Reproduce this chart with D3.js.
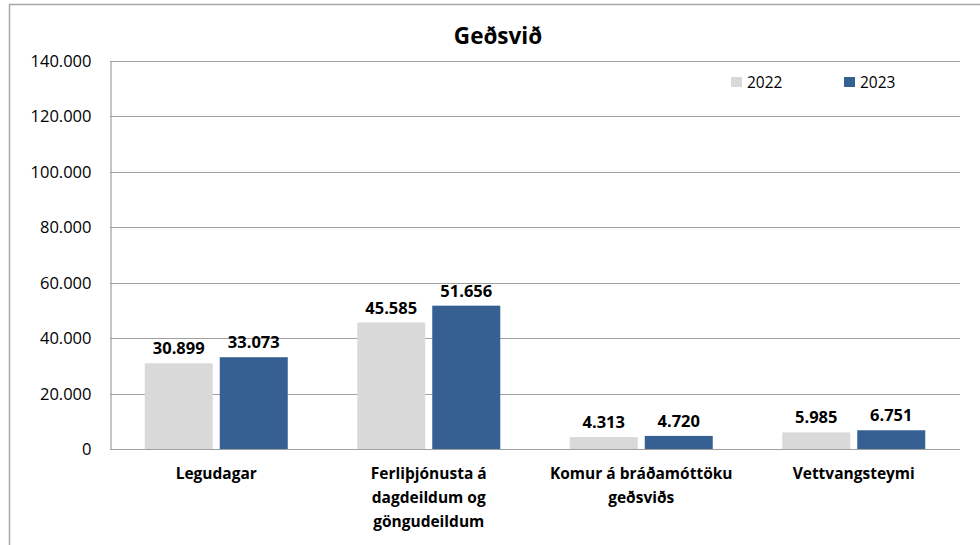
<!DOCTYPE html>
<html>
<head>
<meta charset="utf-8">
<script src="https://cdn.jsdelivr.net/npm/d3@7"></script>
<style>
  html, body { margin: 0; padding: 0; background: #fff; }
  svg { display: block; }
  text { font-family: "Open Sans", Lato, sans-serif; fill: #000; }
</style>
</head>
<body>
<svg id="chart" width="980" height="545"></svg>
<script>
const title = "Geðsvið";
const categories = [
  "Legudagar",
  "Ferliþjónusta á\ndagdeildum og\ngöngudeildum",
  "Komur á bráðamóttöku\ngeðsviðs",
  "Vettvangsteymi"
];
const seriesNames = ["2022", "2023"];
const values2022 = [30899, 45585, 4313, 5985];
const values2023 = [33073, 51656, 4720, 6751];
const yTicks = [0, 20000, 40000, 60000, 80000, 100000, 120000, 140000];
const colors = ["#d9d9d9", "#376092"];

const series = [values2022, values2023];
const plot = { left: 110, right: 960, top: 60.5, bottom: 449 };

const locale = d3.formatLocale({ decimal: ",", thousands: ".", grouping: [3], currency: ["", ""] });
const fmt = locale.format(",d");

const svg = d3.select("#chart");

// outer frame
svg.append("rect")
  .attr("x", 9.5).attr("y", 4.5)
  .attr("width", 990).attr("height", 600)
  .attr("fill", "none").attr("stroke", "#a6a6a6").attr("stroke-width", 1.5);

const y = d3.scaleLinear().domain([0, 140000]).range([plot.bottom, plot.top]);
const x = d3.scaleBand().domain(categories).range([plot.left, plot.right])
  .paddingInner(0.327).paddingOuter(0.1635);
const xs = d3.scaleBand().domain(seriesNames).range([0, x.bandwidth()])
  .paddingInner(0.0933).paddingOuter(0);

// gridlines
svg.append("g").selectAll("line").data(yTicks).join("line")
  .attr("x1", plot.left).attr("x2", plot.right)
  .attr("y1", d => Math.round(y(d)) + 0.5).attr("y2", d => Math.round(y(d)) + 0.5)
  .attr("stroke", "#a0a0a0").attr("stroke-width", 1.2);

// y axis
const yAxis = d3.axisLeft(y).tickValues(yTicks).tickFormat(d => fmt(d)).tickSize(0).tickPadding(19);
const gy = svg.append("g").attr("transform", `translate(${plot.left + 0.5},0)`).call(yAxis);
gy.select(".domain").attr("stroke", "#a0a0a0").attr("stroke-width", 1.2);
gy.selectAll("text").attr("font-size", 16.5).attr("font-family", "Open Sans").attr("fill", "#000").attr("dy", "0.36em");

// bars
const groups = svg.append("g").selectAll("g").data(categories).join("g")
  .attr("transform", d => `translate(${x(d)},0)`);

groups.selectAll("rect")
  .data((d, i) => seriesNames.map((s, j) => ({ s, v: series[j][i], c: colors[j] })))
  .join("rect")
  .attr("x", d => xs(d.s))
  .attr("width", xs.bandwidth())
  .attr("y", d => y(d.v))
  .attr("height", d => y(0) - y(d.v))
  .attr("fill", d => d.c);

groups.selectAll("text.val")
  .data((d, i) => seriesNames.map((s, j) => ({ s, v: series[j][i] })))
  .join("text")
  .attr("class", "val")
  .attr("x", d => xs(d.s) + xs.bandwidth() / 2)
  .attr("y", d => y(d.v) - 9)
  .attr("text-anchor", "middle")
  .attr("font-size", 16.5).attr("font-weight", "bold")
  .text(d => fmt(d.v));

// category labels
const gx = svg.append("g");
categories.forEach(c => {
  const t = gx.append("text")
    .attr("x", x(c) + x.bandwidth() / 2)
    .attr("y", 479)
    .attr("text-anchor", "middle")
    .attr("font-size", 15.5).attr("font-weight", "bold");
  c.split("\n").forEach((line, i) => {
    t.append("tspan").attr("x", x(c) + x.bandwidth() / 2)
      .attr("dy", i === 0 ? 0 : 23.8).text(line);
  });
});

// title
svg.append("text").attr("x", 498).attr("y", 44)
  .attr("text-anchor", "middle").attr("font-size", 22.5).attr("font-weight", "bold")
  .text(title);

// legend
const legendX = [731, 844];
const lg = svg.append("g").selectAll("g").data(seriesNames).join("g")
  .attr("transform", (d, i) => `translate(${legendX[i]},77)`);
lg.append("rect").attr("width", 11).attr("height", 10).attr("fill", (d, i) => colors[i]);
lg.append("text").attr("x", 16).attr("y", 10.5).attr("font-size", 15.5).text(d => d);
</script>
</body>
</html>
